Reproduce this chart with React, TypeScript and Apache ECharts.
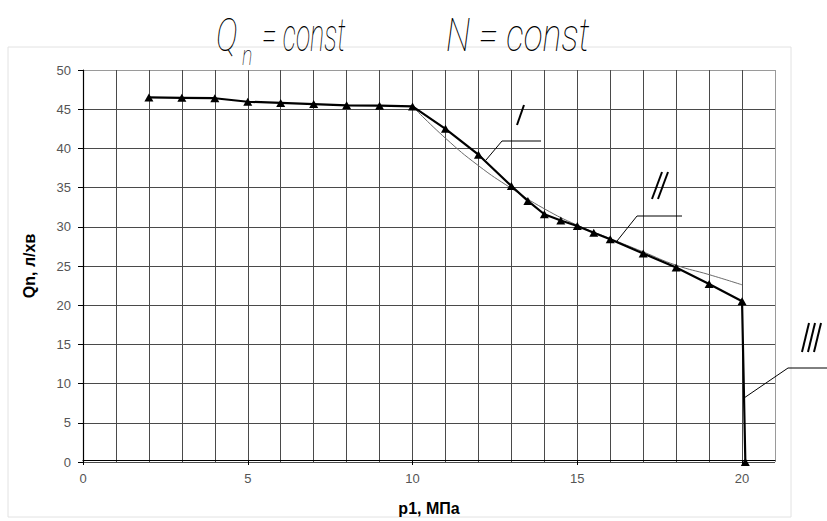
import React, { useEffect, useRef } from "react";
import * as echarts from "echarts";

// Main characteristic (thick line with triangles): p1 (MPa) vs Qn (l/min)
const pressureMain = [2, 3, 4, 5, 6, 7, 8, 9, 10, 11, 12, 13, 13.5, 14, 14.5, 15, 15.5, 16, 17, 18, 19, 20, 20.1];
const flowMain = [46.5, 46.45, 46.4, 45.95, 45.8, 45.65, 45.5, 45.45, 45.35, 42.5, 39.2, 35.2, 33.3, 31.6, 30.8, 30.1, 29.25, 28.4, 26.6, 24.8, 22.7, 20.5, 0];

// Thin curve N = const
const pressureN = [10, 11, 12, 13, 14, 15, 16, 17, 18, 19, 20];
const flowN = [45.35, 41.3, 37.8, 34.9, 32.3, 30.2, 28.5, 26.8, 25.1, 23.9, 22.6];

const xLabelValues = [0, 5, 10, 15, 20];
const xMax = 21;
const yMax = 50;
const yStep = 5;

const titleFont = "Roboto, 'DejaVu Sans', sans-serif";
const axisFont = "'Liberation Sans', Arial, sans-serif";

export default function App() {
  const ref = useRef<HTMLDivElement>(null);

  useEffect(() => {
    if (!ref.current) return;
    const chart = echarts.init(ref.current, null, { renderer: "svg" });

    const ySplitColors = Array.from({ length: yMax / yStep + 1 }, (_, i) => (i === yMax / yStep ? "#9a9a9a" : "#4a4a4a"));
    const xSplitColors = Array.from({ length: xMax + 1 }, (_, i) => (i === xMax ? "#9a9a9a" : "#4a4a4a"));

    const gridRect = { left: 83, top: 70, width: 692, height: 392 };

    const line = (x1: number, y1: number, x2: number, y2: number, w: number) => ({
      type: "line",
      shape: { x1, y1, x2, y2 },
      style: { stroke: "#000", lineWidth: w },
      z: 100,
    });
    const poly = (pts: number[][], w: number) => ({
      type: "polyline",
      shape: { points: pts },
      style: { stroke: "#000", lineWidth: w, fill: null },
      z: 100,
    });
    const titleText = (text: string, x: number, y: number, size: number, sx: number) => ({
      type: "text",
      x,
      y,
      scaleX: sx,
      style: {
        text,
        fill: "#000",
        font: `italic 100 ${size}px ${titleFont}`,
        align: "left",
        verticalAlign: "bottom",
      },
      z: 100,
    });

    chart.setOption({
      animation: false,
      backgroundColor: "#fff",
      grid: [
        { ...gridRect, containLabel: false },
        { ...gridRect, containLabel: false },
      ],
      xAxis: [
        {
          type: "value",
          gridIndex: 0,
          min: 0,
          max: xMax,
          interval: 1,
          axisLine: { show: false },
          axisTick: { show: false },
          axisLabel: { show: false },
          splitLine: { show: true, lineStyle: { color: xSplitColors, width: 1 } },
        },
        {
          type: "value",
          gridIndex: 1,
          min: 0,
          max: xMax,
          interval: 1,
          axisLine: { show: true, onZero: false, lineStyle: { color: "#000", width: 1.2 } },
          axisTick: { show: true, customValues: xLabelValues, length: 5, lineStyle: { color: "#000" } },
          axisLabel: {
            show: true,
            customValues: xLabelValues,
            margin: 12,
            color: "#555",
            fontSize: 13,
            fontFamily: axisFont,
          },
          splitLine: { show: false },
          name: "p1, МПа",
          nameLocation: "middle",
          nameGap: 40,
          nameTextStyle: { color: "#000", fontWeight: "bold", fontSize: 16, fontFamily: axisFont },
        },
      ],
      yAxis: [
        {
          type: "value",
          gridIndex: 0,
          min: 0,
          max: yMax,
          interval: yStep,
          axisLine: { show: true, onZero: false, lineStyle: { color: "#000", width: 1.2 } },
          axisTick: { show: true, length: 5, lineStyle: { color: "#000" } },
          axisLabel: { margin: 12, color: "#555", fontSize: 13, fontFamily: axisFont },
          splitLine: { show: true, lineStyle: { color: ySplitColors, width: 1 } },
          name: "Qn, л/хв",
          nameLocation: "middle",
          nameGap: 46,
          nameTextStyle: { color: "#000", fontWeight: "bold", fontSize: 16, fontFamily: axisFont },
        },
        {
          type: "value",
          gridIndex: 1,
          min: 0,
          max: yMax,
          show: false,
        },
      ],
      series: [
        {
          type: "line",
          name: "N = const",
          xAxisIndex: 0,
          yAxisIndex: 0,
          data: pressureN.map((p, i) => [p, flowN[i]]),
          smooth: true,
          symbol: "none",
          lineStyle: { color: "#6a6a6a", width: 1 },
          z: 3,
        },
        {
          type: "line",
          name: "Qn",
          xAxisIndex: 0,
          yAxisIndex: 0,
          data: pressureMain.map((p, i) => [p, flowMain[i]]),
          symbol: "triangle",
          symbolSize: [9, 8],
          itemStyle: { color: "#000" },
          lineStyle: { color: "#000", width: 2.2 },
          z: 4,
        },
      ],
      graphic: [
        {
          type: "rect",
          shape: { x: 8, y: 47, width: 783, height: 470 },
          style: { stroke: "#e2e2e2", fill: null, lineWidth: 1 },
          silent: true,
          z: -1,
        },
        titleText("Q", 216, 58, 46, 0.72),
        titleText("n", 242, 70, 28, 0.7),
        titleText("= const", 262, 58, 46, 0.58),
        titleText("N = const", 446, 58, 46, 0.77),
        // I
        line(517, 125, 524, 105, 2),
        poly([[486, 160], [502, 141], [541, 141]], 1),
        // II
        line(652, 199, 662, 172, 2),
        line(658, 199, 668, 172, 2),
        poly([[617, 241], [637, 216], [682, 216]], 1),
        // III
        line(802, 352, 809, 323, 2),
        line(808, 352, 815, 323, 2),
        line(814, 352, 821, 323, 2),
        poly([[744, 398], [788, 368], [827, 368]], 1),
      ],
    });

    return () => chart.dispose();
  }, []);

  return (
    <div
      ref={ref}
      style={{ position: "fixed", left: 0, top: 0, width: 827, height: 521, background: "#fff" }}
    />
  );
}
